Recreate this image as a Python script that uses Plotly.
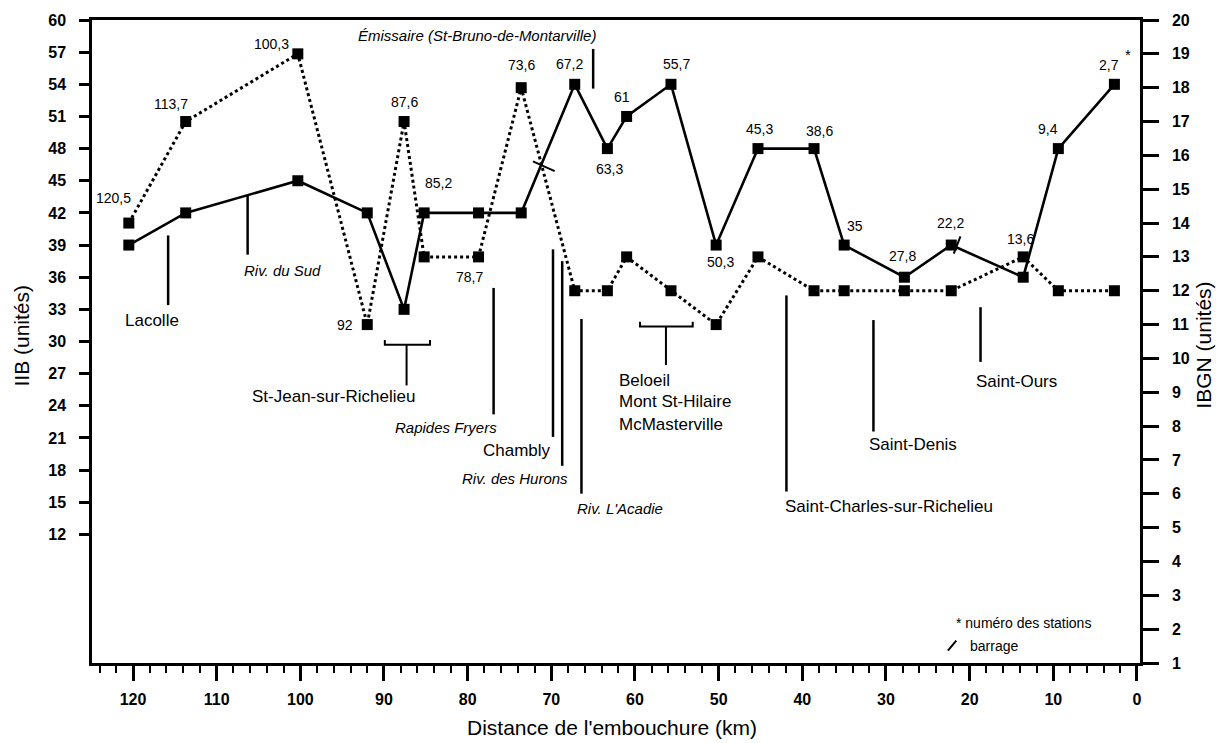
import plotly.graph_objects as go

# ---------------- data ----------------
stations = [120.5, 113.7, 100.3, 92, 87.6, 85.2, 78.7, 73.6, 67.2, 63.3, 61,
            55.7, 50.3, 45.3, 38.6, 35, 27.8, 22.2, 13.6, 9.4, 2.7]
station_labels = ["120,5", "113,7", "100,3", "92", "87,6", "85,2", "78,7", "73,6",
                  "67,2", "63,3", "61", "55,7", "50,3", "45,3", "38,6", "35",
                  "27,8", "22,2", "13,6", "9,4", "2,7"]
iib = [39, 42, 45, 42, 33, 42, 42, 42, 54, 48, 51, 54, 39, 48, 48, 39, 36, 39, 36, 48, 54]
ibgn = [14, 17, 19, 11, 17, 13, 13, 18, 12, 12, 13, 12, 11, 13, 12, 12, 12, 12, 13, 12, 12]
# which series each station number is written next to ("iib" or "ibgn")
label_series = ["ibgn", "ibgn", "ibgn", "ibgn", "ibgn", "iib", "ibgn", "ibgn",
                "iib", "iib", "iib", "iib", "iib", "iib", "iib", "iib",
                "iib", "iib", "ibgn", "iib", "iib"]

x_ticks = list(range(0, 121, 10))
iib_ticks = list(range(12, 61, 3))
ibgn_ticks = list(range(1, 21))

# landmarks (km along river, vertical extent in IIB units)
landmark_km = [115.8, 106.3, 65.0, 76.9, 69.8, 68.7, 66.4, 41.9, 31.5, 18.7]
landmark_top = [39.9, 43.7, 57.3, 35.0, 38.6, 37.5, 32.1, 34.3, 32.0, 33.2]
landmark_bottom = [33.4, 38.1, 53.6, 23.2, 21.1, 18.4, 15.8, 16.0, 21.6, 28.1]

# bracketed towns: (km start, km end, km stem, level, stem bottom)
bracket_start = [89.9, 59.4]
bracket_end = [84.5, 53.1]
bracket_stem = [87.3, 56.3]
bracket_level = [29.7, 31.4]
bracket_bottom = [25.9, 27.8]

# dams ("barrage")
dam_x0 = [72.2, 21.1]
dam_y0 = [46.8, 39.8]
dam_x1 = [69.6, 21.9]
dam_y1 = [45.9, 38.2]

place_names = ["Lacolle", "Riv. du Sud", "Émissaire (St-Bruno-de-Montarville)",
               "St-Jean-sur-Richelieu", "Rapides Fryers", "Chambly",
               "Riv. des Hurons", "Riv. L'Acadie", "Saint-Charles-sur-Richelieu",
               "Saint-Denis", "Saint-Ours"]
place_km = [117.7, 102.1, 78.9, 96.0, 82.6, 74.1, 74.3, 61.8, 29.7, 26.8, 14.4]
place_y = [32.0, 36.6, 58.6, 24.9, 22.0, 19.8, 17.2, 14.4, 14.6, 20.4, 26.3]
place_italic = [False, True, True, False, True, False, True, True, False, False, False]

group_names = ["Beloeil", "Mont St-Hilaire", "McMasterville"]
group_km = 62.1
group_y = [26.4, 24.4, 22.3]

# ---------------- styling / layout ----------------
FONT = "Liberation Sans, Arial, sans-serif"
# pixel offsets of each station label from its point
label_dx = [-15, -15, -26, -22, 0, 14, -9, 0, -5, 2, -5, 6, 4, 2, 5, 11, -2, -1, -3, -10, -5]
label_dy = [-25, -18, -10, 0, -20, -30, 20, -23, -20, 20, -19, -20, 17, -20, -18, -19, -21, -22, -18, -20, -19]

fig = go.Figure()

fig.add_trace(go.Scatter(
    x=stations, y=iib, mode="lines+markers", yaxis="y",
    line=dict(color="black", width=2.6),
    marker=dict(symbol="square", size=11, color="black"),
    showlegend=False, hoverinfo="skip"))

fig.add_trace(go.Scatter(
    x=stations, y=ibgn, mode="lines+markers", yaxis="y2",
    line=dict(color="black", width=3, dash="dot"),
    marker=dict(symbol="square", size=11, color="black"),
    showlegend=False, hoverinfo="skip"))

shapes = []
for km, t, b in zip(landmark_km, landmark_top, landmark_bottom):
    shapes.append(dict(type="line", xref="x", yref="y", x0=km, x1=km, y0=b, y1=t,
                       line=dict(color="black", width=2.5)))
for s, e, st, lv, bt in zip(bracket_start, bracket_end, bracket_stem, bracket_level, bracket_bottom):
    shapes.append(dict(type="path", xref="x", yref="y",
                       path=f"M {s},{lv+0.45} L {s},{lv} L {e},{lv} L {e},{lv+0.45}",
                       line=dict(color="black", width=2)))
    shapes.append(dict(type="line", xref="x", yref="y", x0=st, x1=st, y0=bt, y1=lv,
                       line=dict(color="black", width=2)))
for a, b_, c, d in zip(dam_x0, dam_y0, dam_x1, dam_y1):
    shapes.append(dict(type="line", xref="x", yref="y", x0=a, y0=b_, x1=c, y1=d,
                       line=dict(color="black", width=2)))
# legend slash
shapes.append(dict(type="line", xref="x", yref="y", x0=22.6, y0=1.16, x1=21.6, y1=2.09,
                   line=dict(color="black", width=2)))

annotations = []
for i, (xs, lab, ser) in enumerate(zip(stations, station_labels, label_series)):
    yv = iib[i] if ser == "iib" else ibgn[i]
    annotations.append(dict(x=xs, y=yv, xref="x", yref="y" if ser == "iib" else "y2",
                            text=lab, showarrow=False, xshift=label_dx[i], yshift=-label_dy[i],
                            font=dict(family=FONT, size=14, color="black")))

for name, km, yv, it in zip(place_names, place_km, place_y, place_italic):
    annotations.append(dict(x=km, y=yv, xref="x", yref="y", text=name, showarrow=False,
                            font=dict(family=FONT, size=15 if it else 17, color="black",
                                      style="italic" if it else "normal")))
for name, yv in zip(group_names, group_y):
    annotations.append(dict(x=group_km, y=yv, xref="x", yref="y", text=name, showarrow=False,
                            xanchor="left", font=dict(family=FONT, size=17, color="black")))

annotations.append(dict(x=1.1, y=56.8, xref="x", yref="y", text="*", showarrow=False,
                        font=dict(family=FONT, size=15, color="black")))
annotations.append(dict(x=21.9, y=3.7, xref="x", yref="y", text="* numéro des stations",
                        showarrow=False, xanchor="left", font=dict(family=FONT, size=14, color="black")))
annotations.append(dict(x=20.2, y=1.6, xref="x", yref="y", text="barrage",
                        showarrow=False, xanchor="left", font=dict(family=FONT, size=14, color="black")))

# axis titles
annotations.append(dict(x=0.496, y=-0.101, xref="paper", yref="paper",
                        xanchor="center", yanchor="middle",
                        text="Distance de l'embouchure (km)", showarrow=False,
                        font=dict(family=FONT, size=21, color="black")))
annotations.append(dict(x=-0.067, y=0.509, xref="paper", yref="paper", textangle=-90,
                        xanchor="center", yanchor="middle",
                        text="IIB (unités)", showarrow=False,
                        font=dict(family=FONT, size=21, color="black")))
annotations.append(dict(x=1.061, y=0.495, xref="paper", yref="paper", textangle=-90,
                        xanchor="center", yanchor="middle",
                        text="IBGN (unités)", showarrow=False,
                        font=dict(family=FONT, size=21, color="black")))

tickfont = dict(family=FONT, size=16, color="black", weight="bold")

fig.update_layout(
    width=1225, height=743,
    margin=dict(l=92, r=85, t=20, b=80),
    paper_bgcolor="white", plot_bgcolor="white",
    shapes=shapes, annotations=annotations,
    xaxis=dict(range=[124.9, -0.36], tickmode="array", tickvals=x_ticks,
               ticks="outside", ticklen=15, tickwidth=2.5, tickcolor="black",
               showline=True, linewidth=2.5, linecolor="black", mirror=True,
               showgrid=False, zeroline=False, tickfont=tickfont, ticklabelstandoff=5,
               minor=dict(dtick=2, ticks="outside", ticklen=7, tickwidth=2, tickcolor="black",
                          showgrid=False)),
    yaxis=dict(range=[0, 60], tickmode="array", tickvals=iib_ticks,
               ticks="outside", ticklen=10, tickwidth=2.5, tickcolor="black",
               showline=True, linewidth=2.5, linecolor="black",
               showgrid=False, zeroline=False, tickfont=tickfont, ticklabelstandoff=10),
    yaxis2=dict(range=[1, 20], tickmode="array", tickvals=ibgn_ticks, overlaying="y", side="right",
                ticks="outside", ticklen=16, tickwidth=2.5, tickcolor="black",
                showline=True, linewidth=2.5, linecolor="black",
                showgrid=False, zeroline=False, tickfont=tickfont, ticklabelstandoff=10),
)

fig.write_html("out.html")
